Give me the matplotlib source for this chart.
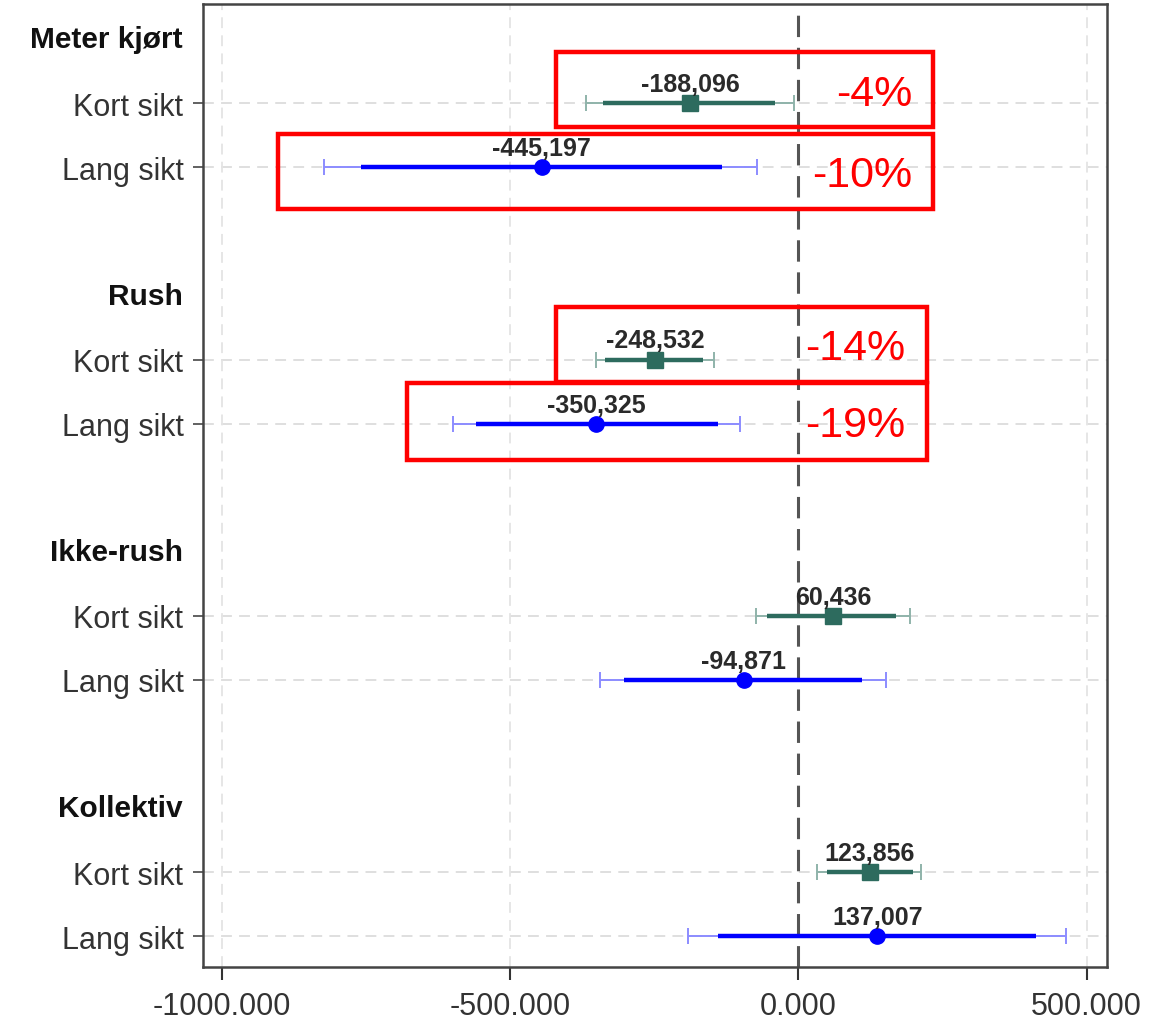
import matplotlib.pyplot as plt
from matplotlib.patches import Rectangle

# Data
groups = ["Meter kjørt", "Rush", "Ikke-rush", "Kollektiv"]
horizons = ["Kort sikt", "Lang sikt"]

kort_est = [-188.096, -248.532, 60.436, 123.856]
kort_lo95 = [-368, -351, -74, 33]
kort_hi95 = [-8, -147, 194, 213]
kort_lo90 = [-339, -335, -54, 49]
kort_hi90 = [-40, -166, 170, 199]

lang_est = [-445.197, -350.325, -94.871, 137.007]
lang_lo95 = [-823, -600, -344, -192]
lang_hi95 = [-72, -102, 152, 465]
lang_lo90 = [-759, -560, -303, -140]
lang_hi90 = [-133, -140, 111, 412]

pct_labels = ["-4%", "-10%", "-14%", "-19%"]
xticks = [-1000, -500, 0, 500]

# Colours
kort_col = "#2d6b5e"
kort_light = "#8fb3aa"
lang_col = "#0000ff"
lang_light = "#8c8cff"
txt_col = "#333333"

plt.rcParams['font.family'] = ['Liberation Sans', 'DejaVu Sans']

fig = plt.figure(figsize=(11.73, 10.2), dpi=100)
ax = fig.add_axes([0.173, 0.051, 0.771, 0.944])

# row layout: header, kort, lang, blank per group
head_rows = [4 * i for i in range(len(groups))]
kort_rows = [4 * i + 1 for i in range(len(groups))]
lang_rows = [4 * i + 2 for i in range(len(groups))]

# grid
for r in kort_rows + lang_rows:
    ax.axhline(r, color="#dcdcdc", lw=1.3, ls=(0, (6, 4)), zorder=0)
for xv in [-1000, -500, 500]:
    ax.axvline(xv, color="#e4e4e4", lw=1.3, ls=(0, (6, 4)), zorder=0)
ax.axvline(0, color="#555555", lw=2.2, ls=(0, (7, 3.5)), zorder=1)


def draw_series(rows, est, lo95, hi95, lo90, hi90, col, light, marker):
    for r, e, a, b, c, d in zip(rows, est, lo95, hi95, lo90, hi90):
        # 95% interval, thin with caps
        ax.errorbar([e], [r], xerr=[[e - a], [b - e]], fmt="none",
                    ecolor=light, elinewidth=1.4, capsize=6, capthick=1.4, zorder=2)
        # 90% interval, thick
        ax.plot([c, d], [r, r], color=col, lw=3.2, solid_capstyle="butt", zorder=3)
        ax.plot([e], [r], marker=marker, color=col, ms=11, zorder=4, ls="none")
        ax.text(e, r - 0.19, f"{e:.3f}".replace(".", ","), ha="center", va="baseline",
                fontsize=18, fontweight="bold", color="#2a2a2a", zorder=5)


draw_series(kort_rows, kort_est, kort_lo95, kort_hi95, kort_lo90, kort_hi90,
            kort_col, kort_light, "s")
draw_series(lang_rows, lang_est, lang_lo95, lang_hi95, lang_lo90, lang_hi90,
            lang_col, lang_light, "o")

# red annotation boxes (x0, x1, y0, y1)
boxes = [(-420, 233, 0.2, 1.37), (-903, 233, 1.48, 2.65),
         (-420, 224, 4.18, 5.35), (-679, 224, 5.37, 6.57)]
pct_pos = [(198, 0.85), (198, 2.12), (186, 4.82), (186, 6.02)]
for (x0, x1, y0, y1), (px, py), lab in zip(boxes, pct_pos, pct_labels):
    ax.add_patch(Rectangle((x0, y0), x1 - x0, y1 - y0, fill=False,
                           edgecolor="#ff0000", lw=3.2, zorder=6, clip_on=False))
    ax.text(px, py, lab, ha="right", va="center", fontsize=31, color="#ff0000", zorder=7)

# axes
ax.set_xlim(-1033, 536)
ax.set_ylim(14.48, -0.55)
ax.set_xticks(xticks)
ax.set_xticklabels([f"{v:.3f}" for v in xticks], fontsize=22, color=txt_col)
ax.tick_params(axis="x", length=9, width=1.5, color="#333333", pad=8)

ytick_pos = kort_rows + lang_rows
ytick_lab = [horizons[0]] * len(groups) + [horizons[1]] * len(groups)
ax.set_yticks(ytick_pos)
ax.set_yticklabels(ytick_lab, fontsize=22, color=txt_col)
ax.tick_params(axis="y", length=7, width=1.3, color="#555555", pad=7)

for r, g in zip(head_rows, groups):
    ax.text(-1068, r, g, ha="right", va="center", fontsize=21.5,
            fontweight="bold", color="#111111", clip_on=False)

for s in ax.spines.values():
    s.set_color("#444444")
    s.set_linewidth(1.8)

fig.savefig("out.png", dpi=100)
